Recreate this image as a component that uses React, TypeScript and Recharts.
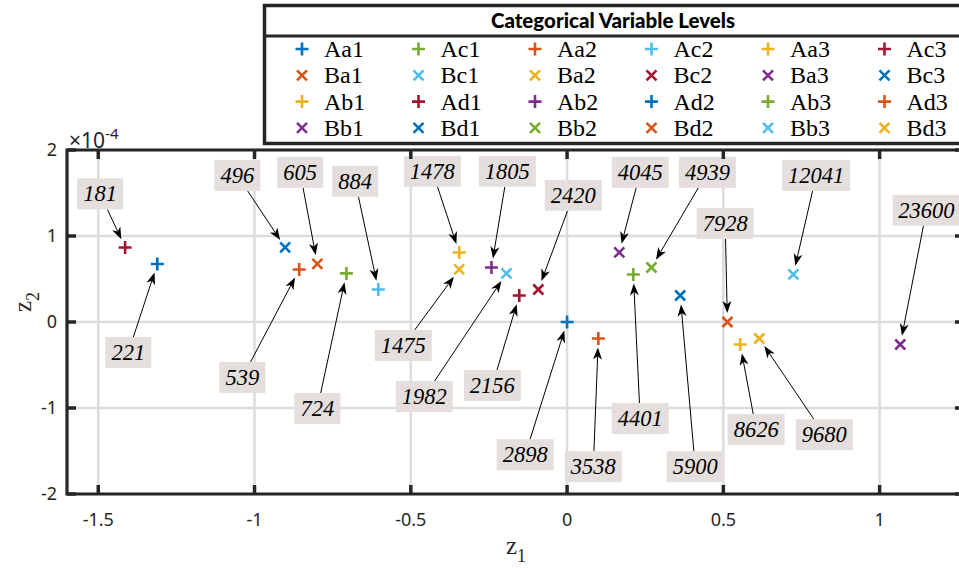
import React from 'react'
import {
  ScatterChart, Scatter, XAxis, YAxis, CartesianGrid, ReferenceLine, ReferenceArea,
} from 'recharts'

// levels in legend order (column by column)
const LEVELS = [
  'Aa1', 'Ba1', 'Ab1', 'Bb1', 'Ac1', 'Bc1', 'Ad1', 'Bd1',
  'Aa2', 'Ba2', 'Ab2', 'Bb2', 'Ac2', 'Bc2', 'Ad2', 'Bd2',
  'Aa3', 'Ba3', 'Ab3', 'Bb3', 'Ac3', 'Bc3', 'Ad3', 'Bd3',
]
const COUNTS = [
  221, 605, 1478, 4045, 724, 1982, 181, 496,
  539, 1475, 1805, 4939, 884, 2420, 2898, 7928,
  8626, 23600, 4401, 12041, 2156, 5900, 3538, 9680,
]
const Z1 = [
  -1.311, -0.799, -0.345, 0.167, -0.706, -0.194, -1.414, -0.902,
  -0.857, -0.345, -0.242, 0.270, -0.604, -0.092, 0, 0.513,
  0.554, 1.066, 0.212, 0.724, -0.153, 0.362, 0.100, 0.615,
]
const Z2 = [
  0.675, 0.675, 0.809, 0.809, 0.565, 0.565, 0.867, 0.867,
  0.611, 0.611, 0.634, 0.634, 0.378, 0.378, 0, 0,
  -0.262, -0.262, 0.553, 0.553, 0.308, 0.308, -0.192, -0.192,
]
// where each count label box sits (data units)
const LABEL_Z1 = [
  -1.404, -0.854, -0.431, 0.234, -0.799, -0.457, -1.494, -1.055,
  -1.039, -0.524, -0.191, 0.449, -0.678, 0.020, -0.134, 0.506,
  0.605, 1.150, 0.234, 0.797, -0.239, 0.410, 0.084, 0.823,
]
const LABEL_Z2 = [
  -0.355, 1.740, 1.752, 1.740, -1.007, -0.867, 1.490, 1.705,
  -0.646, -0.273, 1.752, 1.740, 1.636, 1.473, -1.543, 1.147,
  -1.251, 1.298, -1.123, 1.705, -0.739, -1.682, -1.682, -1.310,
]

const X_TICKS = [-1.5, -1, -0.5, 0, 0.5, 1]
const Y_TICKS = [-2, -1, 0, 1, 2]
const X_DOMAIN: [number, number] = [-1.6, 1.27]
const Y_DOMAIN: [number, number] = [-2, 2]

const PALETTE = ['#0072BD', '#D95319', '#EDB120', '#7E2F8E', '#77AC30', '#4DBEEE', '#A2142F']
const AXIS = '#262626'

const W = 964
const H = 568
const TOP = 150
const LEFT = 67
const BOTTOM = 74
const PLOT_BOTTOM = H - BOTTOM
const TICK_PX = 9

const rows = LEVELS.map((name, i) => ({
  name,
  z1: Z1[i],
  z2: Z2[i],
  count: COUNTS[i],
  color: PALETTE[i % PALETTE.length],
  kind: name[0] === 'A' ? 'plus' : 'cross',
}))

function Marker({ cx, cy, color, kind }: { cx: number; cy: number; color: string; kind: string }) {
  if (kind === 'plus') {
    const s = 6.5
    return <path d={`M${cx - s},${cy}H${cx + s}M${cx},${cy - s}V${cy + s}`} stroke={color} strokeWidth={2.6} fill="none" />
  }
  const s = 5
  return <path d={`M${cx - s},${cy - s}L${cx + s},${cy + s}M${cx - s},${cy + s}L${cx + s},${cy - s}`} stroke={color} strokeWidth={2.6} fill="none" />
}

// tick label plus inward tick marks on bottom and top edges
function XTick(props: any) {
  const { x, y, payload } = props
  return (
    <g>
      <line x1={x} x2={x} y1={PLOT_BOTTOM} y2={PLOT_BOTTOM - TICK_PX} stroke={AXIS} strokeWidth={3.5} />
      <line x1={x} x2={x} y1={TOP} y2={TOP + TICK_PX} stroke={AXIS} strokeWidth={3.5} />
      <text x={x} y={y} dy="0.71em" textAnchor="middle" fontSize={18} fill={AXIS} fontFamily="'Noto Sans', sans-serif">
        {payload.value}
      </text>
    </g>
  )
}

// tick label plus inward tick marks on left and right edges
function YTick(props: any) {
  const { x, y, payload } = props
  return (
    <g>
      <line x1={LEFT} x2={LEFT + TICK_PX} y1={y} y2={y} stroke={AXIS} strokeWidth={3.5} />
      <line x1={W} x2={W - TICK_PX} y1={y} y2={y} stroke={AXIS} strokeWidth={3.5} />
      <text x={x} y={y} dy="0.355em" textAnchor="end" fontSize={18} fill={AXIS} fontFamily="'Noto Sans', sans-serif">
        {payload.value}
      </text>
    </g>
  )
}

// text box with an arrow that points at the marker
function Callout(props: any) {
  const { x1, y1, x2, y2, text } = props
  if ([x1, y1, x2, y2].some((v) => typeof v !== 'number' || isNaN(v))) return <g />
  const w = text.length * 11 + 13
  const h = 31
  const dx = x2 - x1
  const dy = y2 - y1
  const len = Math.hypot(dx, dy) || 1
  const ux = dx / len
  const uy = dy / len
  const tx = Math.abs(ux) > 1e-6 ? w / 2 / Math.abs(ux) : Infinity
  const ty = Math.abs(uy) > 1e-6 ? h / 2 / Math.abs(uy) : Infinity
  const t0 = Math.min(tx, ty)
  const sx = x1 + ux * t0
  const sy = y1 + uy * t0
  const ex = x2 - ux * 9
  const ey = y2 - uy * 9
  const hl = 12
  const hw = 4.5
  const bx = ex - ux * hl
  const by = ey - uy * hl
  const nx = ex - ux * hl * 0.72
  const ny = ey - uy * hl * 0.72
  const px = -uy
  const py = ux
  return (
    <g>
      <line x1={sx} y1={sy} x2={nx} y2={ny} stroke="#000" strokeWidth={1} />
      <path
        d={`M${ex},${ey}L${bx + px * hw},${by + py * hw}L${nx},${ny}L${bx - px * hw},${by - py * hw}Z`}
        fill="#000"
      />
      <rect x={x1 - w / 2} y={y1 - h / 2} width={w} height={h} fill="#e4dfdc" />
      <text
        x={x1}
        y={y1 + 7.5}
        textAnchor="middle"
        fontFamily="'Liberation Serif', serif"
        fontStyle="italic"
        fontSize={22.5}
        fill="#000"
      >
        {text}
      </text>
    </g>
  )
}

function LegendBox() {
  const x0 = 302
  const step = 116.5
  const y0 = 49
  const rowStep = 26.3
  return (
    <g>
      <rect x={264.5} y={5.5} width={720} height={138} fill="#fff" stroke={AXIS} strokeWidth={3.5} />
      <line x1={264.5} x2={984} y1={36} y2={36} stroke={AXIS} strokeWidth={3} />
      <text x={613} y={28} textAnchor="middle" fontFamily="Lato, sans-serif" fontWeight={900} fontSize={20.5} fill="#000">
        Categorical Variable Levels
      </text>
      {rows.map((r, i) => {
        const col = Math.floor(i / 4)
        const row = i % 4
        const mx = x0 + col * step
        const my = y0 + row * rowStep
        return (
          <g key={r.name}>
            <Marker cx={mx} cy={my} color={r.color} kind={r.kind} />
            <text x={mx + 22} y={my + 8} fontFamily="'Liberation Serif', serif" fontSize={24} fill="#000">
              {r.name}
            </text>
          </g>
        )
      })}
    </g>
  )
}

export default function App() {
  return (
    <div style={{ position: 'absolute', left: 0, top: 0, width: 959, height: 568, overflow: 'hidden', background: '#fff' }}>
      <ScatterChart width={W} height={H} margin={{ top: TOP, right: 0, bottom: 0, left: 0 }}>
        <CartesianGrid stroke="#dcdcdc" strokeWidth={2.5} />
        <ReferenceArea
          x1={X_DOMAIN[0]}
          x2={X_DOMAIN[1]}
          y1={Y_DOMAIN[0]}
          y2={Y_DOMAIN[1]}
          fill="none"
          fillOpacity={0}
          stroke={AXIS}
          strokeWidth={3.2}
        />
        <XAxis
          type="number"
          dataKey="z1"
          domain={X_DOMAIN}
          ticks={X_TICKS}
          allowDataOverflow
          height={BOTTOM}
          tickLine={false}
          axisLine={false}
          tickMargin={13}
          tick={<XTick />}
        />
        <YAxis
          type="number"
          dataKey="z2"
          domain={Y_DOMAIN}
          ticks={Y_TICKS}
          allowDataOverflow
          width={LEFT}
          tickLine={false}
          axisLine={false}
          tickMargin={4}
          tick={<YTick />}
        />
        {rows.map((r, i) => (
          <ReferenceLine
            key={`c${r.name}`}
            segment={[{ x: LABEL_Z1[i], y: LABEL_Z2[i] }, { x: r.z1, y: r.z2 }]}
            ifOverflow="visible"
            shape={(p: any) => <Callout {...p} text={String(r.count)} />}
          />
        ))}
        <Scatter
          data={rows}
          isAnimationActive={false}
          shape={(p: any) => <Marker cx={p.cx} cy={p.cy} color={p.payload.color} kind={p.payload.kind} />}
        />
      </ScatterChart>
      <svg width={959} height={568} style={{ position: 'absolute', left: 0, top: 0, pointerEvents: 'none' }}>
        <LegendBox />
        <text x={69} y={148} fontFamily="'Noto Sans', sans-serif" fontSize={21} fill={AXIS}>
          ×10<tspan dy={-9} fontSize={15}>-4</tspan>
        </text>
        <text x={506} y={554} fontFamily="'Liberation Serif', serif" fontSize={25} fill={AXIS}>
          z<tspan dy={8} fontSize={18}>1</tspan>
        </text>
        <text transform="translate(31,312) rotate(-90)" fontFamily="'Liberation Serif', serif" fontSize={25} fill={AXIS}>
          z<tspan dy={8} fontSize={18}>2</tspan>
        </text>
      </svg>
    </div>
  )
}
